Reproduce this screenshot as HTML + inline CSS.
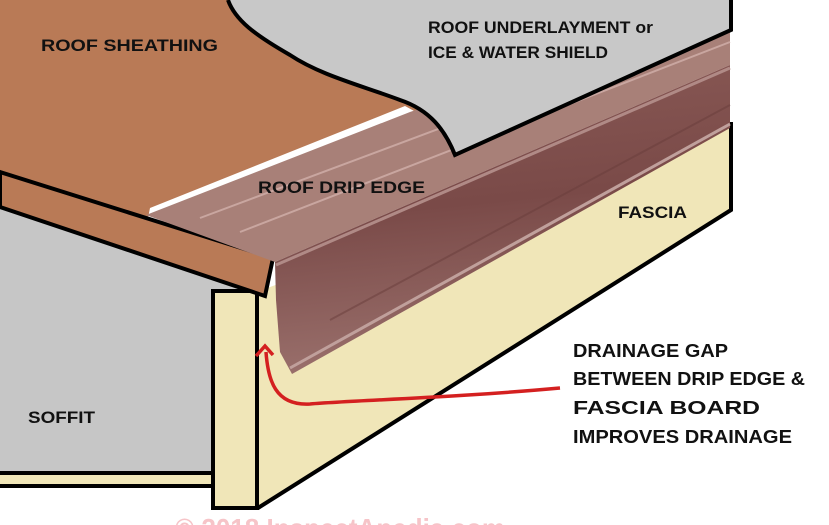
<!DOCTYPE html>
<html><head><style>html,body{margin:0;padding:0;background:#fff;overflow:hidden}svg{display:block}</style></head>
<body>
<svg width="829" height="525" viewBox="0 0 829 525" xmlns="http://www.w3.org/2000/svg">
<defs>
<linearGradient id="face" x1="0" y1="0" x2="0.15" y2="1">
<stop offset="0" stop-color="#8a5a56"/><stop offset="0.5" stop-color="#7a4a48"/><stop offset="1" stop-color="#9a706c"/>
</linearGradient>
</defs>
<rect width="829" height="525" fill="#fff"/>
<!-- sheathing upper -->
<path d="M0,0 L228,0 C240,25 270,45 320,65 C370,85 410,100 440,125 L405,106 L150,208 L148,218 L0,174 Z" fill="#b97a56"/>
<!-- soffit -->
<path d="M0,207 L265,296 L256,300 L213,290 L213,472 L0,472 Z" fill="#c6c6c6"/>
<rect x="0" y="472" width="213" height="14" fill="#f0e6b8"/>
<path d="M0,473 L213,473 M0,486 L213,486" stroke="#000" stroke-width="4"/>
<!-- fascia side -->
<path d="M256,292 L731,122 L731,210 L258,508 Z" fill="#f0e6b8"/>
<path d="M731,122 L731,210 L258,508" fill="none" stroke="#000" stroke-width="4"/>
<!-- fascia board -->
<rect x="213" y="291" width="44" height="217" fill="#f0e6b8" stroke="#000" stroke-width="4"/>
<!-- sheathing board edge -->
<path d="M0,172 L273,258 L265,296 L0,207 Z" fill="#b97a56" stroke="#000" stroke-width="4"/>
<!-- drip edge -->
<path d="M146,215 L410,112 L730,0 L730,65 L275,262 Z" fill="#a88078"/>
<path d="M275,262 L730,65 L730,128 L292,374 L280,352 L276,300 Z" fill="url(#face)"/>
<path d="M200,218 L730,20 M240,232 L730,42" stroke="#c9a6a0" stroke-width="2" fill="none"/>
<path d="M276,265 L730,68" stroke="#b08a86" stroke-width="3"/>
<path d="M290,368 L730,124" stroke="#c0a09c" stroke-width="3"/>
<path d="M330,320 L730,105" stroke="#6a3e3c" stroke-width="2" opacity="0.5"/>
<!-- underlayment on top -->
<path d="M228,0 L731,0 L731,30 L455,155 C445,130 430,110 400,100 C360,85 320,75 290,55 C255,35 235,20 228,0 Z" fill="#c8c8c8"/>
<path d="M228,0 C235,20 255,35 290,55 C320,75 360,85 400,100 C430,110 445,130 455,155 L731,30 L731,0" fill="none" stroke="#000" stroke-width="4"/>
<!-- red arrow -->
<path d="M560,388 C450,398 360,400 310,404 C275,406 268,380 266,352" fill="none" stroke="#d42020" stroke-width="3.5"/>
<path d="M256,356 L265,346 L273,355" fill="none" stroke="#d42020" stroke-width="3.5"/>
<g font-family="Liberation Sans, sans-serif" font-weight="bold" font-size="17" fill="#111">
<text x="41" y="51" textLength="177" lengthAdjust="spacingAndGlyphs">ROOF SHEATHING</text>
<text x="428" y="33" textLength="225" lengthAdjust="spacingAndGlyphs">ROOF UNDERLAYMENT or</text>
<text x="428" y="58" textLength="180" lengthAdjust="spacingAndGlyphs">ICE &amp; WATER SHIELD</text>
<text x="258" y="193" textLength="167" lengthAdjust="spacingAndGlyphs">ROOF DRIP EDGE</text>
<text x="618" y="218" textLength="69" lengthAdjust="spacingAndGlyphs">FASCIA</text>
<text x="28" y="423" textLength="67" lengthAdjust="spacingAndGlyphs">SOFFIT</text>
<g font-size="18">
<text x="573" y="357" textLength="155" lengthAdjust="spacingAndGlyphs">DRAINAGE GAP</text>
<text x="573" y="385" textLength="232" lengthAdjust="spacingAndGlyphs">BETWEEN DRIP EDGE &amp;</text>
<text x="573" y="414" textLength="187" lengthAdjust="spacingAndGlyphs">FASCIA BOARD</text>
<text x="573" y="443" textLength="219" lengthAdjust="spacingAndGlyphs">IMPROVES DRAINAGE</text>
</g>
</g>
<text x="175" y="538" font-family="Liberation Sans, sans-serif" font-weight="bold" font-size="28" fill="#f6c4c8" textLength="330" lengthAdjust="spacingAndGlyphs">© 2018 InspectApedia.com</text>
</svg>
</body></html>
